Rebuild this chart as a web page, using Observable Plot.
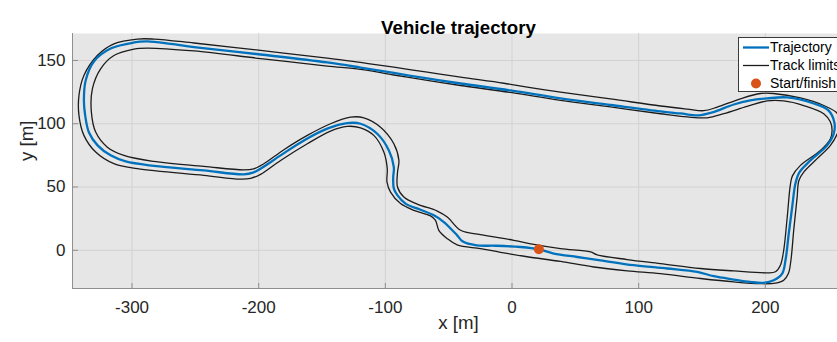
<!DOCTYPE html>
<html>
<head>
<meta charset="utf-8">
<script src="https://cdn.jsdelivr.net/npm/d3@7"></script>
<script src="https://cdn.jsdelivr.net/npm/@observablehq/plot@0.6"></script>
<style>
html, body { margin: 0; padding: 0; background: #fff; overflow: hidden; width: 837px; height: 342px; }
#wrap { position: relative; width: 837px; height: 342px; overflow: hidden; }
#chart svg { max-width: none !important; }
#legend { position: absolute; left: 738px; top: 37px; width: 120px; height: 53px; background: #fff;
  border: 1px solid #3a3a3a; font-family: "Liberation Sans", Arial, sans-serif; font-size: 14px; color: #000; }
.lrow { position: absolute; left: 0; height: 18px; width: 120px; }
.lrow svg { position: absolute; left: 3px; top: 0; }
.lrow span { position: absolute; left: 31px; top: 0; line-height: 18px; white-space: nowrap; }
</style>
</head>
<body>
<div id="wrap"><div id="chart"></div><div id="legend"></div></div>
<script>
// ---- data (metres) ----
const title = "Vehicle trajectory";
const xLabel = "x [m]";
const yLabel = "y [m]";
const xTicks = [-300, -200, -100, 0, 100, 200];
const yTicks = [0, 50, 100, 150];
const xDomain = [-347, 262.5];
const yDomain = [-30.2, 171.3];
const legendLabels = ["Trajectory", "Track limits", "Start/finish"];

const trajectory = [
  [21.2, 0.8], [33.0, -2.6], [51.5, -5.3], [69.8, -7.9], [96.1, -11.8], [122.5, -14.4],
  [146.2, -17.1], [159.3, -20.5], [175.1, -23.1], [188.2, -25.0], [198.7, -25.7], [206.6, -23.7],
  [213.3, -18.4], [215.9, -7.9], [218.5, 13.2], [221.2, 34.2], [223.8, 52.9], [226.9, 61.6],
  [235.6, 71.0], [248.8, 82.9], [254.0, 92.1], [254.5, 101.0], [249.8, 110.5], [238.2, 116.0],
  [217.2, 120.8], [201.4, 120.0], [188.2, 118.4], [175.1, 115.2], [158.2, 108.9], [147.2, 106.6],
  [133.0, 108.1], [117.2, 109.7], [77.7, 114.8], [38.3, 120.0], [-1.2, 126.3], [-40.6, 131.8],
  [-66.9, 135.8], [-93.3, 140.1], [-119.6, 144.4], [-145.9, 148.4], [-198.5, 154.7], [-251.1, 160.6],
  [-269.5, 163.1], [-287.9, 165.0], [-298.5, 164.2], [-316.9, 159.4], [-330.1, 149.2], [-336.6, 134.2],
  [-338.0, 118.4], [-337.0, 106.6], [-334.0, 93.1], [-327.2, 82.9], [-316.9, 75.0], [-305.0, 70.2],
  [-282.7, 66.7], [-243.3, 63.1], [-211.7, 60.0], [-204.0, 61.6], [-198.5, 64.5], [-182.7, 75.0],
  [-164.3, 86.8], [-145.9, 96.1], [-130.1, 100.5], [-119.6, 100.0], [-106.4, 92.1], [-97.2, 78.9],
  [-93.3, 65.7], [-93.8, 57.6], [-93.3, 48.7], [-90.4, 43.4], [-84.1, 36.9], [-72.2, 32.0],
  [-61.7, 27.6], [-53.8, 22.3], [-43.3, 11.8], [-39.1, 7.1], [-28.0, 3.9], [-13.0, 3.6], [6.7, 2.6]
];

const limitOuter = [
  [12.0, -5.1], [38.3, -8.8], [64.6, -13.2], [90.9, -16.2], [117.2, -18.5], [148.8, -22.3],
  [175.1, -25.0], [196.2, -26.4], [208.0, -26.0], [214.5, -23.7], [218.2, -18.4], [220.2, -7.9],
  [222.4, 15.8], [225.1, 41.8], [226.5, 55.2], [230.3, 61.8], [240.9, 72.4], [251.4, 82.9],
  [256.9, 92.3], [259.3, 101.0], [256.9, 108.1], [246.1, 114.4], [227.7, 120.4], [206.4, 123.9],
  [196.1, 123.9], [180.3, 119.7], [162.0, 113.1], [151.4, 110.3], [138.3, 111.6], [117.2, 114.0],
  [77.7, 119.6], [38.3, 124.9], [12.0, 128.9], [-6.5, 132.0], [-40.6, 136.8], [-66.9, 140.7],
  [-93.3, 144.7], [-119.6, 148.4], [-145.9, 151.9], [-198.5, 157.9], [-251.1, 163.8], [-282.7, 166.9],
  [-295.8, 166.9], [-314.3, 163.1], [-327.4, 153.9], [-338.0, 138.1], [-341.9, 122.3], [-341.9, 106.6],
  [-338.0, 90.8], [-328.7, 77.6], [-314.3, 68.4], [-295.8, 64.5], [-243.3, 59.2], [-214.3, 56.2],
  [-206.4, 56.8], [-198.5, 60.0], [-182.7, 71.0], [-161.6, 84.2], [-143.3, 94.2], [-130.1, 97.9],
  [-119.6, 96.8], [-109.1, 90.8], [-101.2, 77.6], [-98.5, 64.5], [-98.7, 53.9], [-95.9, 46.0],
  [-88.0, 36.9], [-77.5, 31.6], [-64.3, 27.2], [-60.4, 23.7], [-57.8, 15.8], [-51.1, 9.2],
  [-43.3, 4.3], [-24.9, 1.3], [-9.1, -1.6]
];

const limitInner = [
  [17.2, 4.7], [38.3, 1.3], [62.0, -1.3], [67.2, -3.6], [90.9, -7.3], [117.2, -10.5],
  [148.8, -14.4], [175.1, -16.3], [201.4, -17.8], [208.0, -17.0], [211.9, -11.8], [214.5, 0.0],
  [217.2, 25.3], [219.8, 52.1], [221.4, 58.8], [227.7, 67.1], [243.5, 78.9], [251.4, 88.2],
  [252.7, 94.7], [251.4, 101.3], [246.1, 107.9], [230.3, 114.4], [214.5, 118.0], [201.4, 118.0],
  [185.6, 113.7], [167.2, 107.9], [154.1, 104.7], [138.3, 105.4], [117.2, 107.9], [77.7, 113.3],
  [38.3, 118.4], [-1.2, 124.7], [-40.6, 130.2], [-66.9, 134.2], [-93.3, 138.5], [-119.6, 142.9],
  [-145.9, 145.6], [-198.5, 151.5], [-251.1, 157.5], [-287.9, 159.8], [-298.5, 159.0], [-314.3, 153.9],
  [-324.8, 143.4], [-331.3, 127.6], [-332.1, 109.2], [-328.7, 93.4], [-319.5, 81.5], [-306.4, 75.0],
  [-282.7, 70.2], [-243.3, 66.3], [-211.7, 63.5], [-204.0, 64.3], [-195.9, 68.4], [-180.1, 79.5],
  [-161.6, 90.8], [-143.3, 100.0], [-127.5, 105.2], [-117.0, 104.7], [-103.8, 97.3], [-93.3, 84.2],
  [-89.3, 71.0], [-90.4, 61.6], [-90.4, 50.0], [-85.4, 42.1], [-74.8, 36.5], [-59.0, 31.0],
  [-51.1, 26.3], [-40.6, 15.8], [-24.9, 12.4], [1.4, 7.9]
];

const startFinish = [[21.2, 0.8]];

// ---- styles ----
const blue = "#0072BD";
const orange = "#D95319";
const limitColor = "#1c1c1c";
const font = "'Liberation Sans', Arial, Helvetica, sans-serif";

const toXY = (arr) => arr.map(([x, y]) => ({x, y}));

const chart = Plot.plot({
  width: 850,
  height: 342,
  marginLeft: 72,
  marginRight: 6,
  marginTop: 33,
  marginBottom: 54,
  x: {domain: xDomain, ticks: xTicks},
  y: {domain: yDomain, ticks: yTicks},
  style: {fontFamily: font, fontSize: "17px", color: "#262626", background: "transparent", overflow: "visible", maxWidth: "none"},
  marks: [
    Plot.frame({fill: "#e6e6e6", stroke: null}),
    Plot.gridX(xTicks, {stroke: "#d2d2d2", strokeOpacity: 1, strokeWidth: 1}),
    Plot.gridY(yTicks, {stroke: "#d2d2d2", strokeOpacity: 1, strokeWidth: 1}),
    Plot.line(toXY(limitOuter), {x: "x", y: "y", curve: "catmull-rom-closed", stroke: limitColor, strokeWidth: 1.3}),
    Plot.line(toXY(limitInner), {x: "x", y: "y", curve: "catmull-rom-closed", stroke: limitColor, strokeWidth: 1.3}),
    Plot.line(toXY(trajectory), {x: "x", y: "y", curve: "catmull-rom-closed", stroke: blue, strokeWidth: 2.3}),
    Plot.dot(toXY(startFinish), {x: "x", y: "y", r: 5, fill: orange, stroke: null}),
    Plot.ruleX([xDomain[0]], {stroke: "#8f8f8f", strokeWidth: 1}),
    Plot.ruleY([yDomain[0]], {stroke: "#8f8f8f", strokeWidth: 1}),
    Plot.axisX(xTicks, {tickSize: -5, tickPadding: 17, tickFormat: d => String(d), label: null, stroke: "#8f8f8f", fill: "#262626", fontSize: 17}),
    Plot.axisY(yTicks, {tickSize: -6, tickPadding: 13, tickFormat: d => String(d), label: null, stroke: "#8f8f8f", fill: "#262626", fontSize: 17}),
    Plot.text([xLabel], {frameAnchor: "bottom", dy: 40, text: d => d, fontSize: 18.7, fill: "#262626"}),
    Plot.text([yLabel], {frameAnchor: "left", dx: -45, rotate: -90, text: d => d, fontSize: 18.7, fill: "#262626"}),
    Plot.text([title], {frameAnchor: "top", dy: -13, text: d => d, fontSize: 18.7, fontWeight: "bold", fill: "#000"})
  ]
});
document.getElementById("chart").appendChild(chart);

// ---- legend (HTML) ----
const legend = document.getElementById("legend");
const rowTops = [0, 18, 36];
legendLabels.forEach((label, i) => {
  const row = document.createElement("div");
  row.className = "lrow";
  row.style.top = rowTops[i] + "px";
  let sample;
  if (i === 0) sample = `<svg width="28" height="18"><line x1="1" y1="9.5" x2="27" y2="9.5" stroke="${blue}" stroke-width="2.3"/></svg>`;
  else if (i === 1) sample = `<svg width="28" height="18"><line x1="1" y1="9.5" x2="27" y2="9.5" stroke="${limitColor}" stroke-width="1.3"/></svg>`;
  else sample = `<svg width="28" height="18"><circle cx="14" cy="9.5" r="5" fill="${orange}"/></svg>`;
  row.innerHTML = sample + `<span>${label}</span>`;
  legend.appendChild(row);
});
</script>
</body>
</html>
